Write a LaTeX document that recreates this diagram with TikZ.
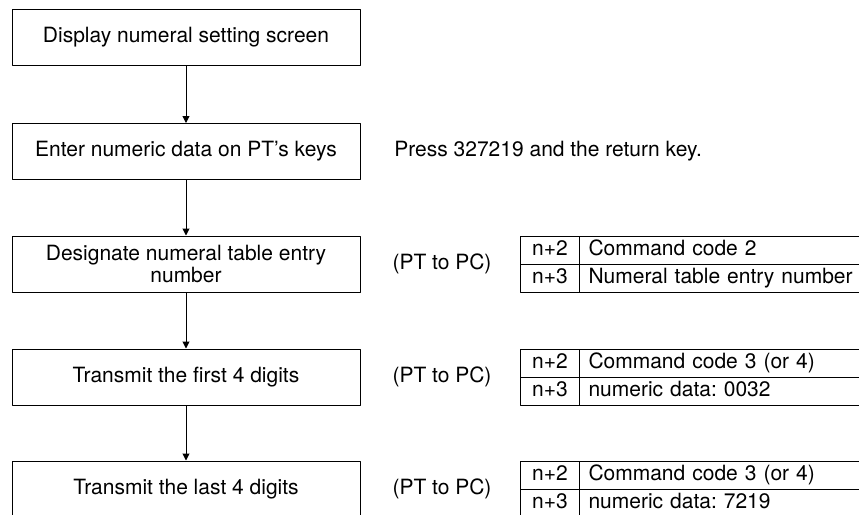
\documentclass[tikz,border=0pt]{standalone}
\usepackage{fontspec}
\setmainfont{TeX Gyre Heros}
\usetikzlibrary{arrows.meta}
\frenchspacing
\begin{document}
\begin{tikzpicture}[x=0.5pt,y=-0.5pt,font=\fontsize{10.5}{11}\selectfont,line join=round,
	>={Triangle[width=3.5pt,length=3.5pt]},
	stepbox/.style={draw,line width=0.5pt,minimum width=174pt,minimum height=28pt,inner sep=0pt,align=center},
	numcell/.style={draw,line width=0.5pt,minimum width=29.5pt,minimum height=14pt,inner sep=0pt,text height=7.4pt,text depth=2.1pt,anchor=north west},
	txtcell/.style={draw,line width=0.5pt,minimum height=14pt,inner ysep=0pt,inner xsep=4.5pt,text width=150pt,align=left,text height=7.4pt,text depth=2.1pt,anchor=north west}]
	\useasboundingbox (0,0) rectangle (859,515);
	\clip (0,0) rectangle (859,515);
	% flow steps
	\node[stepbox] (s1) at (186,37.5) {Display numeral setting screen};
	\node[stepbox] (s2) at (186,151.5) {Enter numeric data on PT's keys};
	\node[stepbox] (s3) at (186,264) {Designate numeral table entry\\number};
	\node[stepbox] (s4) at (186,377) {Transmit the first 4 digits};
	\node[stepbox] (s5) at (186,489) {Transmit the last 4 digits};
	\foreach \a/\b in {s1/s2,s2/s3,s3/s4,s4/s5} \draw[->,line width=0.5pt] (\a) -- (\b);
	\node[anchor=west,inner sep=0pt] (press) at (394,151.5) {Press 327219 and the return key.};
	% words sent from PT to PC
	\foreach \t/\y/\ra/\rb in {3/236/Command code 2/Numeral table entry number,
		4/349/Command code 3 (or 4)/numeric data: 0032,
		5/461/Command code 3 (or 4)/numeric data: 7219}{
		\node (pc\t) at (442,\y+28) {(PT to PC)};
		\node[numcell] (n\t a) at (520,\y) {n+2};
		\node[txtcell] (c\t a) at (579,\y) {\ra};
		\node[numcell] (n\t b) at (520,\y+28) {n+3};
		\node[txtcell] (c\t b) at (579,\y+28) {\rb};
	}
\end{tikzpicture}
\end{document}
